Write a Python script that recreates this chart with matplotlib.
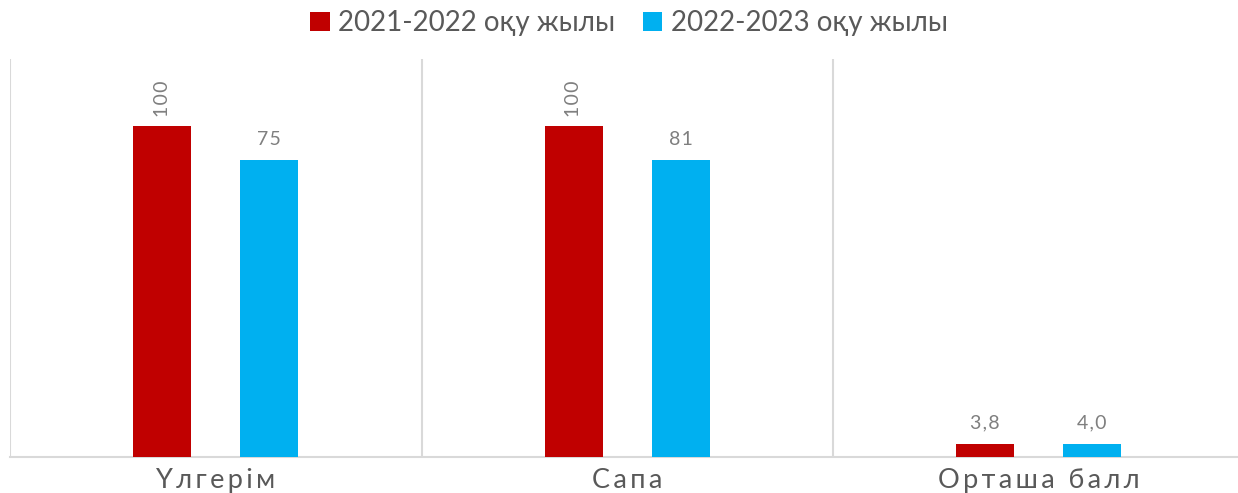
import matplotlib.pyplot as plt
import numpy as np

categories = ["Үлгерім", "Сапа", "Орташа балл"]
series_names = ["2021-2022 оқу жылы", "2022-2023 оқу жылы"]
# bar heights as drawn in the picture
heights_2122 = [100, 100, 3.9]
heights_2223 = [89.5, 89.5, 3.9]
# data labels as printed on the chart
labels_2122 = ["100", "100", "3,8"]
labels_2223 = ["75", "81", "4,0"]
label_rot_2122 = [90, 90, 0]

colors = ["#C00000", "#00B0F0"]
fam = ["Lato", "DejaVu Sans"]


def spaced(s, sep="\u2009"):
    return sep.join(s)


fig = plt.figure(figsize=(12.38, 4.93), dpi=100)
ax = fig.add_axes([10 / 1238, 0.0736, 3 * 411.5 / 1238, 0.806])

x = np.arange(len(categories))
w = 0.14
off = 0.13
b1 = ax.bar(x - off, heights_2122, w, color=colors[0], label=series_names[0], zorder=3)
b2 = ax.bar(x + off, heights_2223, w, color=colors[1], label=series_names[1], zorder=3)

for rect, lab, rot in zip(b1, labels_2122, label_rot_2122):
    ax.annotate(spaced(lab, "\u200a"), (rect.get_x() + rect.get_width() / 2, rect.get_height()),
                xytext=(0, 6 if rot else 9), textcoords="offset points",
                ha="center", va="bottom", rotation=rot, fontsize=14,
                color="#7f7f7f", family=fam)
for rect, lab in zip(b2, labels_2223):
    ax.annotate(spaced(lab, "\u200a"), (rect.get_x() + rect.get_width() / 2, rect.get_height()),
                xytext=(0, 9), textcoords="offset points",
                ha="center", va="bottom", fontsize=14,
                color="#7f7f7f", family=fam)

ax.set_xlim(-0.5, len(categories) - 0.5)
ax.set_ylim(0, 120)
for xv in np.arange(-0.5, len(categories) + 0.5, 1):
    ax.axvline(xv, color="#d9d9d9", lw=1.5, zorder=1)

for s in ["top", "right", "left"]:
    ax.spines[s].set_visible(False)
ax.spines["bottom"].set_color("#d9d9d9")
ax.spines["bottom"].set_linewidth(1.5)
ax.set_yticks([])
ax.set_xticks(x)
ax.set_xticklabels([spaced(c) for c in categories], fontsize=19.5,
                   color="#595959", family=fam)
ax.tick_params(axis="x", length=0, pad=8)

fig.legend(handles=[b1, b2], loc="center", bbox_to_anchor=(0.508, 0.953),
           ncol=2, frameon=False, handlelength=0.7,
           handleheight=0.7, handletextpad=0.3, columnspacing=1.0,
           labelcolor="#595959", prop={"family": fam, "size": 20})

plt.savefig("out.png", dpi=100)
